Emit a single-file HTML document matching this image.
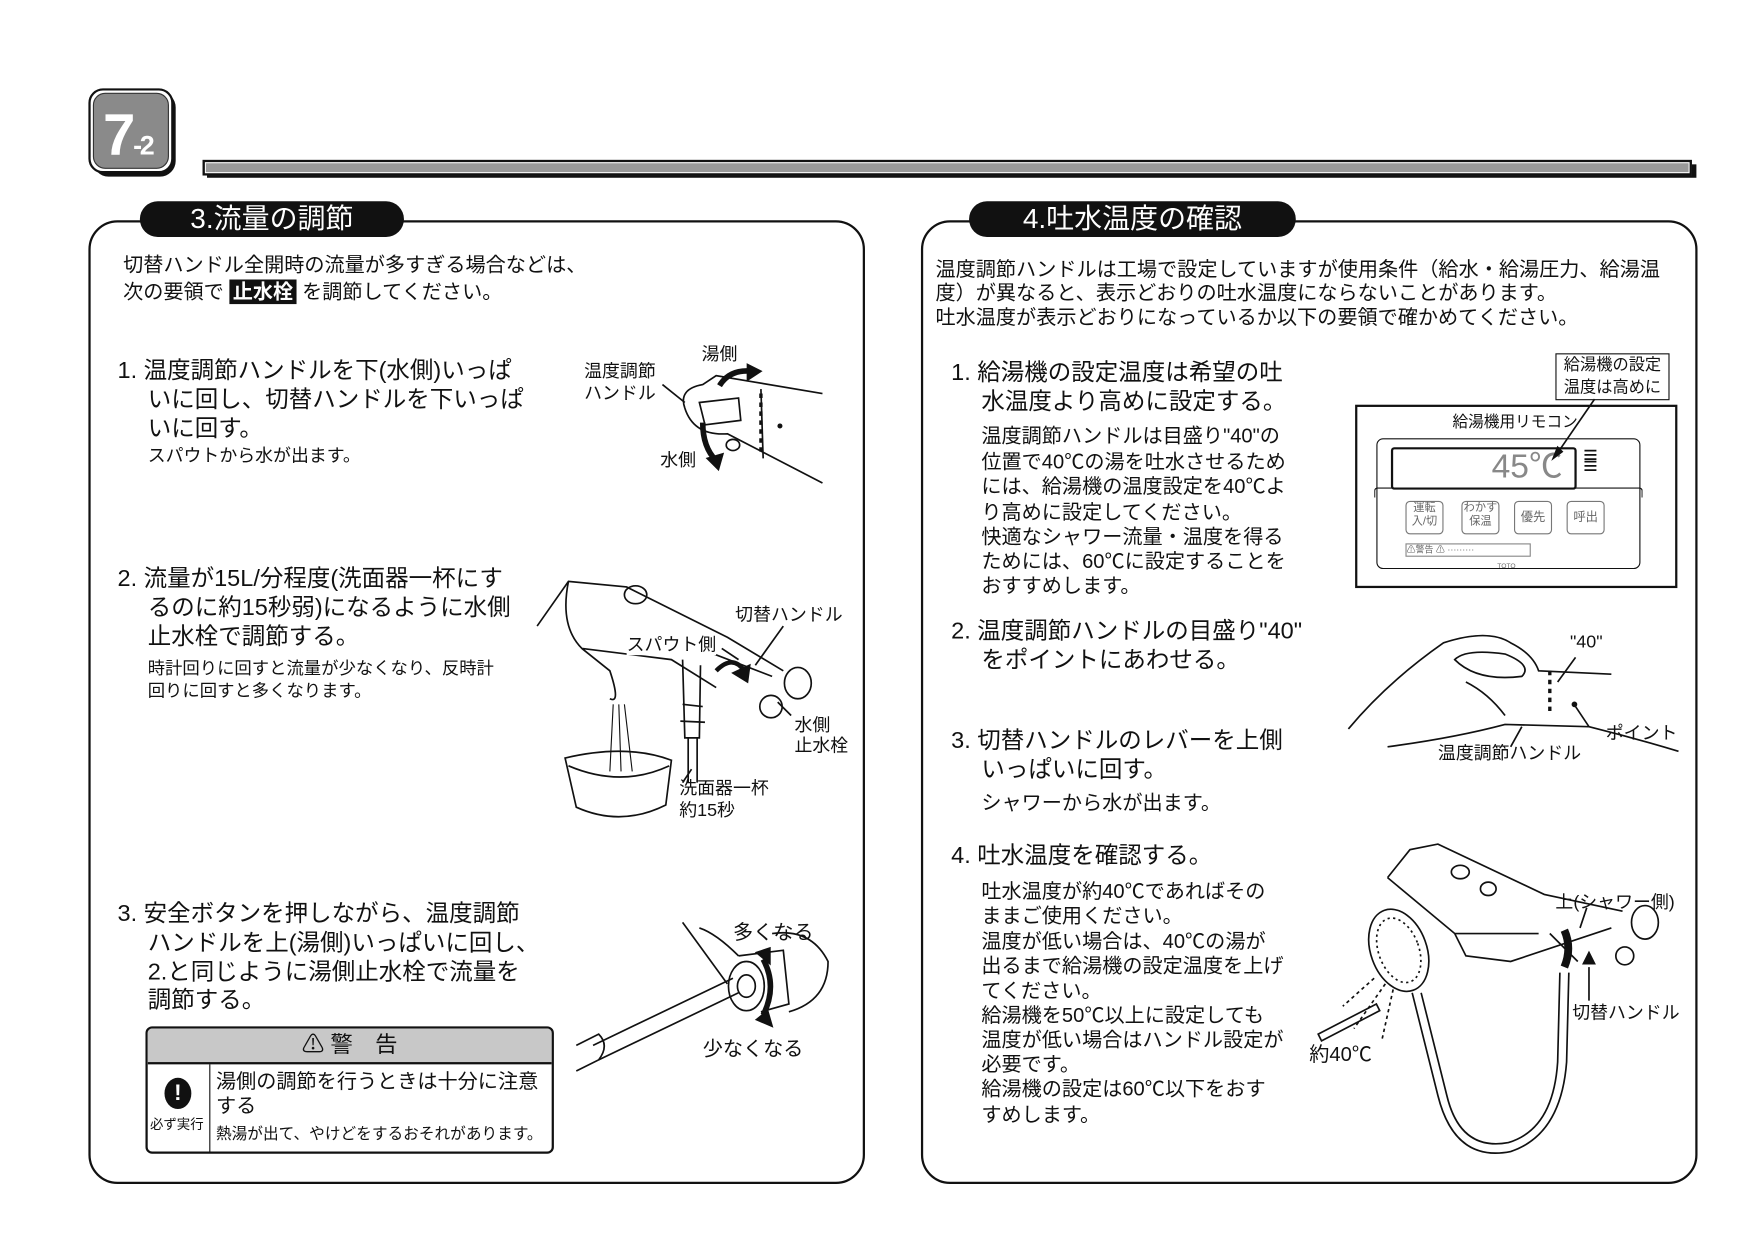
<!DOCTYPE html>
<html><head><meta charset="utf-8">
<style>
html,body{margin:0;padding:0;background:#fff;}
body{width:1754px;height:1240px;overflow:hidden;position:relative;}
#w{position:absolute;left:0;top:0;width:1560px;height:1103px;transform:scale(1.119,1.118);transform-origin:0 0;font-family:"Liberation Sans","Noto Sans CJK JP",sans-serif;color:#111;}
.t{position:absolute;white-space:nowrap;line-height:1;}
.s17{font-size:18px;}
.s20{font-size:21px;}
.s16{font-size:16px;}
.s15{font-size:15.5px;}
.s14{font-size:14px;}
.panel{position:absolute;border:2px solid #111;border-radius:26px;}
.pill{position:absolute;background:#111;color:#fff;border-radius:18px;font-size:25px;text-align:center;line-height:32px;}
</style></head><body><div id="w">

<div style="position:absolute;left:83px;top:82px;width:74px;height:76px;border-radius:14px;background:#111;"></div>
<div style="position:absolute;left:79px;top:79px;width:72px;height:72px;border-radius:13px;background:#fff;border:2px solid #111;"></div>
<div style="position:absolute;left:83px;top:83px;width:66px;height:66px;border-radius:11px;background:#8a8a8a;border:1px solid #333;"></div>
<div class="t" style="left:92px;top:95px;font-size:52px;font-weight:bold;color:#fff;letter-spacing:-2px;">7<span style="font-size:24px;">-2</span></div>

<div style="position:absolute;left:185px;top:147px;width:1331px;height:12px;background:#111;"></div>
<div style="position:absolute;left:181px;top:143px;width:1327px;height:10px;background:#999;border:2px solid #111;box-shadow:inset 0 0 0 1px #fff;"></div>

<div class="panel" style="left:79px;top:197px;width:690px;height:858px;"></div>
<div class="panel" style="left:823px;top:197px;width:690px;height:858px;"></div>
<div class="pill" style="left:125px;top:180px;width:236px;height:32px;">3.流量の調節</div>
<div class="pill" style="left:866px;top:180px;width:292px;height:32px;">4.吐水温度の確認</div>

<div class="t s17" style="left:110px;top:228px;">切替ハンドル全開時の流量が多すぎる場合などは、</div>
<div class="t s17" style="left:110px;top:252px;">次の要領で <span style="background:#111;color:#fff;font-weight:bold;padding:1px 3px;">止水栓</span> を調節してください。</div>

<div class="t s20" style="left:105px;top:321px;">1. 温度調節ハンドルを下(水側)いっぱ</div>
<div class="t s20" style="left:132px;top:347px;">いに回し、切替ハンドルを下いっぱ</div>
<div class="t s20" style="left:132px;top:373px;">いに回す。</div>
<div class="t s16" style="left:132px;top:401px;">スパウトから水が出ます。</div>

<div class="t s20" style="left:105px;top:507px;">2. 流量が15L/分程度(洗面器一杯にす</div>
<div class="t s20" style="left:132px;top:533px;">るのに約15秒弱)になるように水側</div>
<div class="t s20" style="left:132px;top:559px;">止水栓で調節する。</div>
<div class="t s15" style="left:132px;top:591px;">時計回りに回すと流量が少なくなり、反時計</div>
<div class="t s15" style="left:132px;top:611px;">回りに回すと多くなります。</div>

<div class="t s20" style="left:105px;top:807px;">3. 安全ボタンを押しながら、温度調節</div>
<div class="t s20" style="left:132px;top:833px;">ハンドルを上(湯側)いっぱいに回し、</div>
<div class="t s20" style="left:132px;top:859px;">2.と同じように湯側止水栓で流量を</div>
<div class="t s20" style="left:132px;top:884px;">調節する。</div>

<div style="position:absolute;left:130px;top:918px;width:361px;height:110px;border:2px solid #111;border-radius:6px;overflow:hidden;">
 <div style="height:30px;background:#c8c8c8;border-bottom:2px solid #111;text-align:center;font-size:20px;line-height:30px;">⚠ 警　告</div>
 <div style="position:absolute;left:0;top:32px;width:55px;height:80px;border-right:1.5px solid #111;"></div>
 <div style="position:absolute;left:15px;top:44px;width:24px;height:28px;border-radius:50%;background:#111;color:#fff;font-weight:bold;font-size:20px;text-align:center;line-height:28px;">!</div>
 <div class="t" style="left:2px;top:80px;font-size:12px;">必ず実行</div>
 <div class="t" style="left:61px;top:38px;font-size:18px;">湯側の調節を行うときは十分に注意</div>
 <div class="t" style="left:61px;top:60px;font-size:18px;">する</div>
 <div class="t" style="left:61px;top:87px;font-size:14px;">熱湯が出て、やけどをするおそれがあります。</div>
</div>

<svg style="position:absolute;left:0;top:0;" width="1560" height="1103" fill="none" stroke="#111" stroke-width="1.5">
 <path d="M612 365 Q606 348 628 344 L640 336 L735 352 M612 365 Q620 390 650 388 L735 432 M625 360 L660 356 L662 376 L630 380 Z M680 348 L682 410"/>
 <path d="M680 352 L680 405" stroke-dasharray="4 4" stroke-width="3"/>
 <path d="M643 345 Q652 330 672 332" stroke-width="5"/><path d="M668 326 L680 332 L668 340 Z" fill="#111"/>
 <path d="M628 378 Q628 400 640 412" stroke-width="5"/><path d="M632 410 L642 420 L646 406 Z" fill="#111"/>
 <path d="M592 344 L612 360"/><ellipse cx="655" cy="398" rx="6" ry="5"/>
 <circle cx="697" cy="381" r="1.5" fill="#111"/>
 <path d="M480 560 L508 520 L560 525 L650 570 L700 600 M508 520 Q500 560 520 580 L545 600 Q555 630 545 625 M520 580 L600 590 L640 615 M610 590 L612 660 L625 660 L626 595 M625 580 L690 605"/>
 <ellipse cx="568" cy="532" rx="10" ry="8"/><ellipse cx="713" cy="611" rx="12" ry="14"/><ellipse cx="689" cy="632" rx="10" ry="10"/>
 <path d="M610 630 L628 632 M608 645 L630 646" />
 <path d="M615 660 L615 700 M623 660 L623 700"/>
 <path d="M548 630 L545 690 M553 630 L555 690 M558 630 L565 690" stroke-width="1"/>
 <path d="M505 678 Q560 665 600 680 L595 720 Q555 740 515 722 Z M508 685 Q555 705 598 685"/>
 <path d="M640 600 Q655 585 665 600" stroke-width="4"/><path d="M655 602 L668 610 L670 595Z" fill="#111"/>
 <path d="M645 580 L660 590 M700 560 L675 595 M707 640 L695 628 M610 700 L618 688"/>
 <path d="M610 825 L650 880 M625 830 Q640 835 660 855 M690 835 Q725 830 740 860 Q740 895 705 905 M660 855 L700 850 L705 898 L680 905"/>
 <ellipse cx="667" cy="882" rx="16" ry="22"/><ellipse cx="667" cy="882" rx="8" ry="10"/>
 <path d="M660 888 L535 948 M655 875 L530 935"/>
 <path d="M515 935 L535 925 Q545 935 535 948 L515 958"/>
 <path d="M682 858 Q695 882 682 908" stroke-width="5"/><path d="M676 852 L688 848 L688 862Z M676 912 L690 918 L686 904Z" fill="#111"/>
</svg>
<div class="t s16" style="left:522px;top:325px;">温度調節</div>
<div class="t s16" style="left:522px;top:345px;">ハンドル</div>
<div class="t s16" style="left:627px;top:310px;">湯側</div>
<div class="t s16" style="left:590px;top:405px;">水側</div>
<div class="t s16" style="left:657px;top:543px;">切替ハンドル</div>
<div class="t s16" style="left:560px;top:570px;background:#fff;">スパウト側</div>
<div class="t s16" style="left:710px;top:642px;">水側</div>
<div class="t s16" style="left:710px;top:660px;">止水栓</div>
<div class="t s16" style="left:607px;top:698px;">洗面器一杯</div>
<div class="t s16" style="left:607px;top:718px;">約15秒</div>
<div class="t s17" style="left:655px;top:825px;">多くなる</div>
<div class="t s17" style="left:628px;top:929px;">少なくなる</div>

<div class="t s17" style="left:836px;top:232px;">温度調節ハンドルは工場で設定していますが使用条件（給水・給湯圧力、給湯温</div>
<div class="t s17" style="left:836px;top:253px;">度）が異なると、表示どおりの吐水温度にならないことがあります。</div>
<div class="t s17" style="left:836px;top:275px;">吐水温度が表示どおりになっているか以下の要領で確かめてください。</div>

<div class="t s20" style="left:850px;top:323px;">1. 給湯機の設定温度は希望の吐</div>
<div class="t s20" style="left:877px;top:349px;">水温度より高めに設定する。</div>
<div class="t s17" style="left:877px;top:381px;">温度調節ハンドルは目盛り"40"の</div>
<div class="t s17" style="left:877px;top:404px;">位置で40℃の湯を吐水させるため</div>
<div class="t s17" style="left:877px;top:426px;">には、給湯機の温度設定を40℃よ</div>
<div class="t s17" style="left:877px;top:449px;">り高めに設定してください。</div>
<div class="t s17" style="left:877px;top:471px;">快適なシャワー流量・温度を得る</div>
<div class="t s17" style="left:877px;top:493px;">ためには、60℃に設定することを</div>
<div class="t s17" style="left:877px;top:515px;">おすすめします。</div>

<div class="t s20" style="left:850px;top:554px;">2. 温度調節ハンドルの目盛り"40"</div>
<div class="t s20" style="left:877px;top:580px;">をポイントにあわせる。</div>

<div class="t s20" style="left:850px;top:652px;">3. 切替ハンドルのレバーを上側</div>
<div class="t s20" style="left:877px;top:678px;">いっぱいに回す。</div>
<div class="t s17" style="left:877px;top:709px;">シャワーから水が出ます。</div>

<div class="t s20" style="left:850px;top:755px;">4. 吐水温度を確認する。</div>
<div class="t s17" style="left:877px;top:788px;">吐水温度が約40℃であればその</div>
<div class="t s17" style="left:877px;top:810px;">ままご使用ください。</div>
<div class="t s17" style="left:877px;top:833px;">温度が低い場合は、40℃の湯が</div>
<div class="t s17" style="left:877px;top:855px;">出るまで給湯機の設定温度を上げ</div>
<div class="t s17" style="left:877px;top:877px;">てください。</div>
<div class="t s17" style="left:877px;top:899px;">給湯機を50℃以上に設定しても</div>
<div class="t s17" style="left:877px;top:921px;">温度が低い場合はハンドル設定が</div>
<div class="t s17" style="left:877px;top:943px;">必要です。</div>
<div class="t s17" style="left:877px;top:965px;">給湯機の設定は60℃以下をおす</div>
<div class="t s17" style="left:877px;top:988px;">すめします。</div>

<div style="position:absolute;left:1211px;top:362px;width:284px;height:160px;border:2px solid #111;"></div>
<div class="t s14" style="left:1298px;top:370px;">給湯機用リモコン</div>
<div style="position:absolute;left:1230px;top:392px;width:234px;height:115px;border:1.5px solid #111;border-radius:6px;"></div>
<div style="position:absolute;left:1228px;top:436px;width:238px;height:8px;border:1.5px solid #111;border-bottom:none;border-radius:3px 3px 0 0;"></div>
<div style="position:absolute;left:1243px;top:400px;width:162px;height:34px;border:2px solid #111;border-radius:3px;"></div>
<div class="t" style="left:1333px;top:403px;font-size:30px;color:#888;">45℃</div>
<div class="t" style="left:1415px;top:402px;font-size:22px;line-height:10px;">≡<br>≡</div>
<div style="position:absolute;left:1256px;top:448px;width:32px;height:28px;border:1px solid #777;border-radius:4px;font-size:10px;color:#666;line-height:12px;text-align:center;">運転<br>入/切</div>
<div style="position:absolute;left:1306px;top:448px;width:32px;height:28px;border:1px solid #777;border-radius:4px;font-size:10px;color:#666;line-height:12px;text-align:center;">わかす<br>保温</div>
<div style="position:absolute;left:1353px;top:448px;width:32px;height:28px;border:1px solid #777;border-radius:4px;font-size:11px;color:#666;line-height:28px;text-align:center;">優先</div>
<div style="position:absolute;left:1400px;top:448px;width:32px;height:28px;border:1px solid #777;border-radius:4px;font-size:11px;color:#666;line-height:28px;text-align:center;">呼出</div>
<div style="position:absolute;left:1256px;top:486px;width:110px;height:10px;border:1px solid #888;font-size:8px;line-height:10px;color:#666;">⚠警告 ⚠ ·········</div>
<div class="t" style="left:1338px;top:504px;font-size:6px;color:#666;">TOTO</div>
<div style="position:absolute;left:1390px;top:316px;width:100px;height:40px;border:1.5px solid #111;background:#fff;font-size:14.5px;line-height:20px;text-align:center;">給湯機の設定<br>温度は高めに</div>

<svg style="position:absolute;left:0;top:0;" width="1560" height="1103" fill="none" stroke="#111" stroke-width="1.5">
 <path d="M1425 357 L1392 405"/><path d="M1388 410 L1392 400 L1396 404Z" fill="#111"/>
 <path d="M1205 652 Q1240 610 1290 575 Q1330 562 1350 575 Q1370 585 1375 600 L1440 603 M1240 668 Q1300 660 1345 648 L1420 650 Q1460 660 1500 672"/>
 <path d="M1300 590 Q1310 580 1345 585 Q1370 595 1360 605 Q1320 610 1300 590 Z M1310 610 Q1330 620 1345 640"/>
 <path d="M1385 600 L1385 640" stroke-width="3" stroke-dasharray="4 4"/>
 <path d="M1408 588 L1392 610 M1420 650 L1408 632 M1360 650 L1350 668"/>
 <circle cx="1407" cy="630" r="1.8" fill="#111"/>
 <path d="M1240 785 L1260 760 L1285 755 L1380 800 L1450 815 M1240 785 L1300 835 L1310 855 L1350 860 L1440 830 M1300 835 L1375 835"/>
 <ellipse cx="1305" cy="780" rx="8" ry="6"/><ellipse cx="1330" cy="795" rx="7" ry="6"/><ellipse cx="1470" cy="825" rx="12" ry="15"/><ellipse cx="1452" cy="855" rx="8" ry="8"/>
 <path d="M1398 832 Q1405 848 1398 865" stroke-width="7"/>
 <path d="M1385 835 L1410 860" />
 <ellipse cx="1250" cy="850" rx="25" ry="38" transform="rotate(-20 1250 850)"/>
 <ellipse cx="1250" cy="850" rx="18" ry="30" transform="rotate(-20 1250 850)" stroke-dasharray="2 3"/>
 <path d="M1262 888 L1285 980 Q1300 1040 1350 1030 Q1395 1015 1400 950 L1402 870 M1270 888 L1293 980 Q1305 1030 1348 1022 Q1388 1010 1392 950 L1394 870"/>
 <path d="M1238 880 L1210 920 M1228 875 L1200 900 M1245 885 L1235 930" stroke-dasharray="3 3"/>
 <path d="M1178 925 L1230 898 L1233 904 L1181 931Z"/>
 <path d="M1412 830 L1418 812 M1420 865 L1420 895"/><path d="M1415 862 L1425 862 L1420 852Z" fill="#111"/>
</svg>
<div class="t s16" style="left:1403px;top:567px;">"40"</div>
<div class="t s16" style="left:1435px;top:649px;">ポイント</div>
<div class="t s16" style="left:1285px;top:667px;">温度調節ハンドル</div>
<div class="t s16" style="left:1390px;top:800px;">上(シャワー側)</div>
<div class="t s16" style="left:1405px;top:899px;">切替ハンドル</div>
<div class="t s17" style="left:1170px;top:934px;">約40℃</div>

</div></body></html>
